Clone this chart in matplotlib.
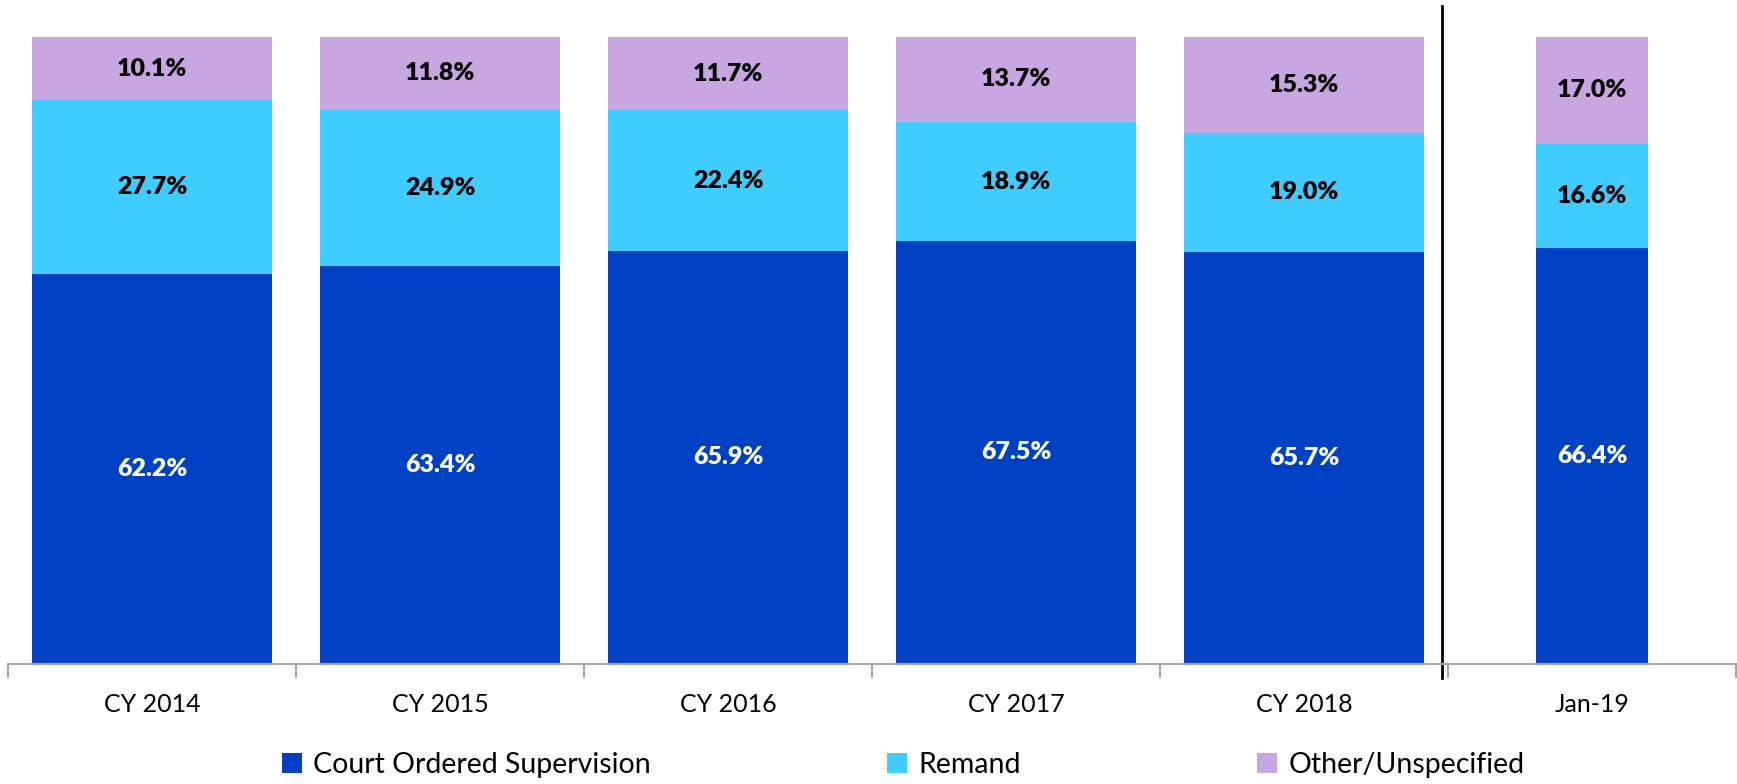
import matplotlib.pyplot as plt
from matplotlib.patches import Patch
import numpy as np

plt.rcParams['font.family'] = ['Lato', 'DejaVu Sans']

categories = ['CY 2014', 'CY 2015', 'CY 2016', 'CY 2017', 'CY 2018', 'Jan-19']
court = [62.2, 63.4, 65.9, 67.5, 65.7, 66.4]
remand = [27.7, 24.9, 22.4, 18.9, 19.0, 16.6]
other = [10.1, 11.8, 11.7, 13.7, 15.3, 17.0]

series_names = ['Court Ordered Supervision', 'Remand', 'Other/Unspecified']
colors = ['#0041C4', '#3FCCFF', '#C8A6E2']
label_colors = ['white', 'black', 'black']

fig = plt.figure(figsize=(17.37, 7.84), dpi=100)
ax = fig.add_axes([8 / 1737, 1 - 664 / 784, 1728 / 1737, 627 / 784])

x = np.arange(len(categories))
widths = [0.833] * 5 + [0.39]

bottom = np.zeros(len(categories))
for vals, col, lc in zip([court, remand, other], colors, label_colors):
    vals = np.array(vals)
    ax.bar(x, vals, width=widths, bottom=bottom, color=col, edgecolor='none')
    for xi, b, v in zip(x, bottom, vals):
        ax.text(xi, b + v / 2, f'{v:.1f}%', ha='center', va='center',
                color=lc, fontsize=18, fontweight='heavy')
    bottom += vals

ax.set_xlim(-0.5, len(categories) - 0.5)
ax.set_ylim(0, 100)

for s in ['top', 'right', 'left']:
    ax.spines[s].set_visible(False)
ax.spines['bottom'].set_color('#A6A6A6')
ax.spines['bottom'].set_linewidth(1.5)
ax.set_yticks([])

ax.set_xticks(x)
ax.set_xticklabels(categories, fontsize=18)
ax.tick_params(axis='x', which='major', length=0, pad=21)
ax.set_xticks(np.arange(-0.5, len(categories)), minor=True)
ax.tick_params(axis='x', which='minor', length=10, width=1.5, color='#A6A6A6')

# divider between yearly and monthly figures
ax.plot([4.479, 4.479], [-0.022, 1.049], color='black', lw=2,
        transform=ax.get_xaxis_transform(), clip_on=False)

handles = [Patch(facecolor=c, edgecolor='none') for c in colors]
fig.legend(handles, series_names, loc='center', bbox_to_anchor=(0.52, 1 - 765 / 784),
           ncol=3, frameon=False, fontsize=20.5, handlelength=0.7, handleheight=0.7,
           handletextpad=0.4, columnspacing=8.3)

fig.savefig('out.png', dpi=100)
